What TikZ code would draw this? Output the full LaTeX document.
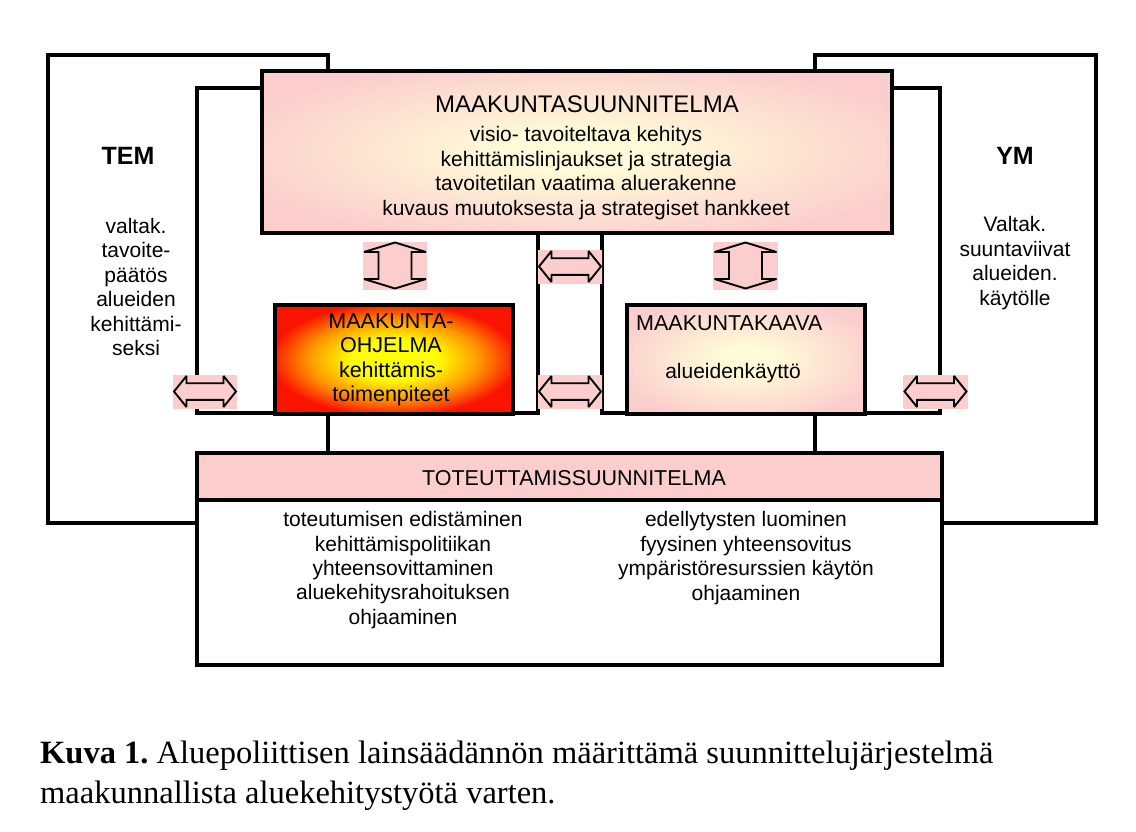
\documentclass[tikz,border=0pt]{standalone}
\usepackage{fontspec}
\setmainfont{Liberation Sans}
\newfontfamily\capfont{Liberation Serif}
\frenchspacing
\definecolor{pnk}{RGB}{251,205,205}
\definecolor{lyel}{RGB}{255,250,215}
\definecolor{fyel}{RGB}{255,255,0}
\definecolor{forange}{RGB}{255,150,0}
\definecolor{fred}{RGB}{250,20,0}
\pgfdeclareradialshading{pinkglow}{\pgfpoint{0bp}{0bp}}{color(0bp)=(lyel); color(6bp)=(lyel); color(29bp)=(pnk); color(50bp)=(pnk)}
\pgfdeclareradialshading{fire}{\pgfpoint{0bp}{0bp}}{color(0bp)=(fyel); color(9bp)=(fyel); color(18bp)=(forange); color(26bp)=(fred); color(50bp)=(fred)}
\tikzset{
  wire/.style={line width=3.6pt, draw=black},
  boxx/.style={draw=black, line width=3.6pt, inner sep=0pt, rectangle},
  arr/.style={draw=black, line width=1.9pt, line join=miter, miter limit=3},
  hbg/.style={rectangle, inner sep=0pt, minimum width=64, minimum height=33, left color=pnk, middle color=lyel, right color=pnk},
  vbg/.style={rectangle, inner sep=0pt, minimum width=64, minimum height=47, top color=pnk, middle color=lyel, bottom color=pnk},
  txt/.style={inner sep=0pt, align=center, font=\fontsize{21}{24.4}\selectfont},
  hd/.style={inner sep=0pt, align=center, font=\fontsize{21.5}{24.4}\selectfont},
}
\newcommand\HArr[3]{\node[hbg] (#1) at (#2,#3) {};
  \draw[arr,shift={(#1.center)}] (-31,0) -- (-18.5,-15.5) -- (-18.5,-8.3) -- (18.5,-8.3) -- (18.5,-15.5) -- (31,0) -- (18.5,15.5) -- (18.5,8.3) -- (-18.5,8.3) -- (-18.5,15.5) -- cycle;}
\newcommand\VArr[3]{\node[vbg] (#1) at (#2,#3) {};
  \draw[arr,shift={(#1.center)}] (0,-23) -- (31,-13.5) -- (16.5,-13.5) -- (16.5,13.5) -- (31,13.5) -- (0,23) -- (-31,13.5) -- (-16.5,13.5) -- (-16.5,-13.5) -- (-31,-13.5) -- cycle;}
\begin{document}
\begin{tikzpicture}[x=1pt,y=-1pt]
\useasboundingbox[fill=white] (0,0) rectangle (1136,832);
% boxes
\node[boxx, shade, shading=pinkglow, minimum width=630, minimum height=162] (main) at (577,152) {};
\node[boxx, shade, shading=fire, minimum width=238, minimum height=109] (ohj) at (394,359.5) {};
\node[boxx, shade, shading=pinkglow, minimum width=238, minimum height=109] (kaava) at (746,359.5) {};
\node[boxx, fill=white, minimum width=745, minimum height=212] (tot) at (569.5,559) {};
\node[boxx, left color=pnk, middle color=lyel!40!pnk, right color=pnk, minimum width=745, minimum height=47] (head) at (569.5,476.5) {};
% coordinates
\coordinate (oTL) at (48,55); \coordinate (oBL) at (48,523);
\coordinate (oTR) at (1096,55); \coordinate (oBR) at (1096,523);
\coordinate (iTL) at (197,88); \coordinate (iBL) at (197,413);
\coordinate (iTR) at (940,88); \coordinate (iBR) at (940,413);
\coordinate (mL) at (538,413); \coordinate (mR) at (602,413);
\coordinate (lstub) at (328,55); \coordinate (rstub) at (815,55);
% connectors
\draw[wire] (lstub |- main.north) -- (lstub) -- (oTL) -- (oBL) -- (oBL -| tot.west);
\draw[wire] (iTL -| main.west) -- (iTL) -- (iBL) -- (iBL -| ohj.west);
\draw[wire] (rstub |- main.north) -- (rstub) -- (oTR) -- (oBR) -- (oBR -| tot.east);
\draw[wire] (iTR -| main.east) -- (iTR) -- (iBR) -- (iBR -| kaava.east);
\draw[wire] (mL |- main.south) -- (mL) -- (mL -| ohj.east);
\draw[wire] (mR |- main.south) -- (mR) -- (mR -| kaava.west);
\draw[wire] (lstub |- ohj.south) -- (lstub |- tot.north);
\draw[wire] (rstub |- kaava.south) -- (rstub |- tot.north);
% arrows
\VArr{va1}{395}{265.5}
\VArr{va2}{745.5}{265.5}
\HArr{ha1}{570}{266.5}
\HArr{ha2}{570}{391.5}
\HArr{ha3}{205}{391.5}
\HArr{ha4}{935.5}{391.5}
% texts
\node[inner sep=0pt, font=\fontsize{24}{28}\selectfont] (mtitle) at (587,104) {MAAKUNTASUUNNITELMA};
\node[txt] (mbody) at (586,173) {visio- tavoiteltava kehitys\\kehittämislinjaukset ja strategia\\tavoitetilan vaatima aluerakenne\\kuvaus muutoksesta ja strategiset hankkeet};
\node[inner sep=0pt, font=\bfseries\fontsize{25}{28}\selectfont] (tem) at (128,156) {TEM};
\node[txt] (temtxt) at (136,287) {valtak.\\tavoite-\\päätös\\alueiden\\kehittämi-\\seksi};
\node[inner sep=0pt, font=\bfseries\fontsize{25}{28}\selectfont] (ym) at (1015,156) {YM};
\node[txt] (ymtxt) at (1015,263) {Valtak.\\suuntaviivat\\alueiden.\\käytölle};
\node[hd] (ohjtxt) at (391,360) {MAAKUNTA-\\OHJELMA\\kehittämis-\\toimenpiteet};
\node[hd, anchor=west] (kaavatitle) at (636,323) {MAAKUNTAKAAVA};
\node[txt] (kaavatxt) at (733,373) {alueidenkäyttö};
\node[hd] (tottitle) at (574,478) {TOTEUTTAMISSUUNNITELMA};
\node[txt] (totl) at (403,570) {toteutumisen edistäminen\\kehittämispolitiikan\\yhteensovittaminen\\aluekehitysrahoituksen\\ohjaaminen};
\node[txt] (totr) at (746,558) {edellytysten luominen\\fyysinen yhteensovitus\\ympäristöresurssien käytön\\ohjaaminen};
\node[inner sep=0pt, anchor=base west, font=\capfont\fontsize{32.5}{40}\selectfont] (cap1) at (40,763) {\textbf{Kuva 1.} Aluepoliittisen lainsäädännön määrittämä suunnittelujärjestelmä};
\node[inner sep=0pt, anchor=base west, font=\capfont\fontsize{32.5}{40}\selectfont] (cap2) at (40,803) {maakunnallista aluekehitystyötä varten.};
\end{tikzpicture}
\end{document}
